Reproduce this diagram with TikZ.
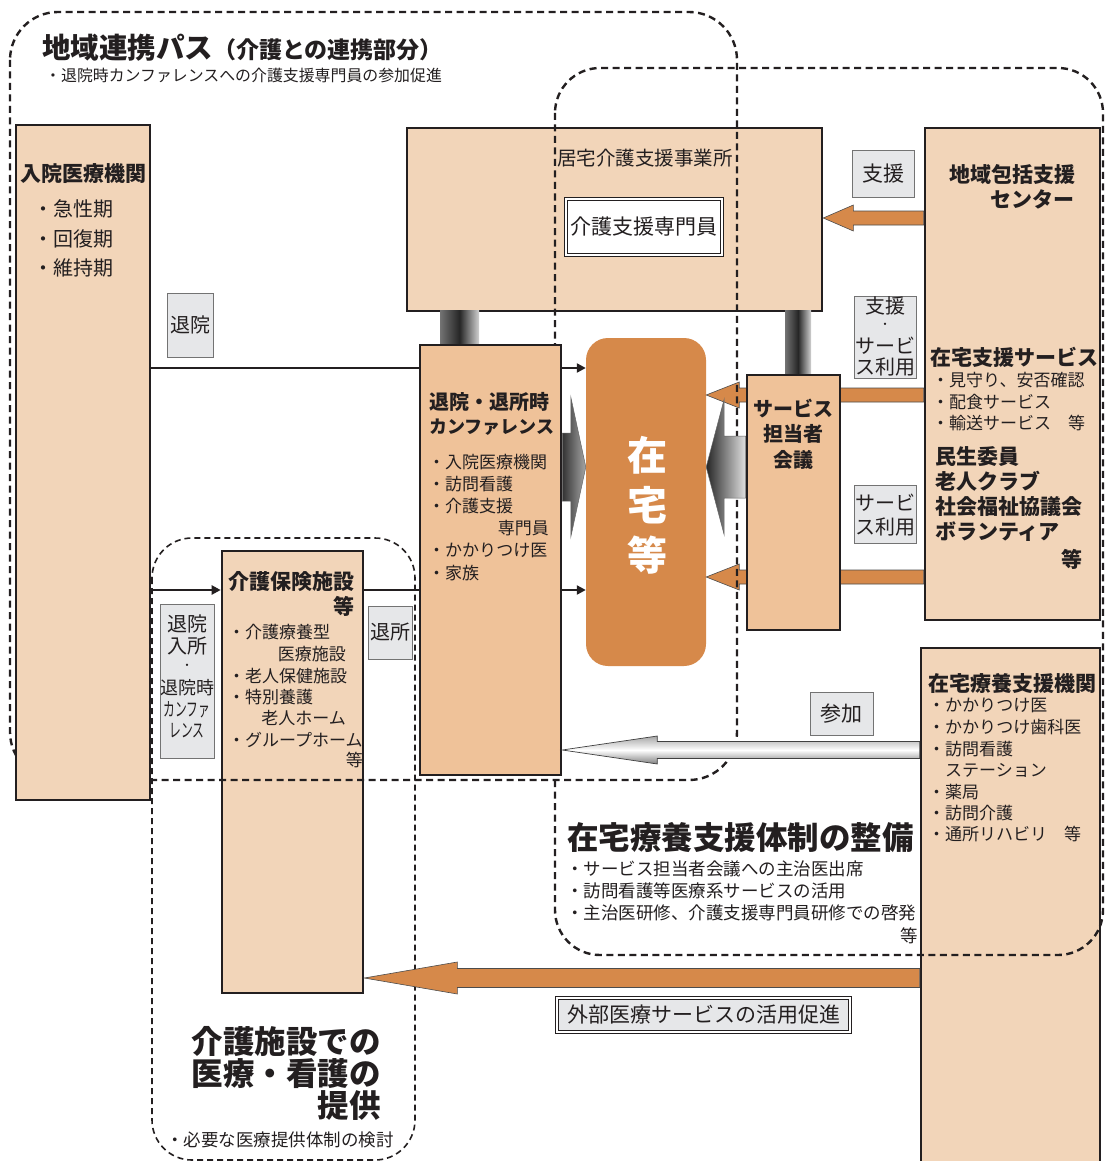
\documentclass[tikz,border=0pt]{standalone}
\usepackage{fontspec}
\usepackage{graphicx}
\setmainfont{Noto Sans CJK JP}
\usetikzlibrary{calc,arrows.meta}
\definecolor{peachL}{HTML}{F2D5B9}
\definecolor{peachM}{HTML}{EFC299}
\definecolor{orng}{HTML}{D6894A}
\definecolor{labg}{HTML}{E6E7E9}
\definecolor{tc}{HTML}{231F20}
\newcommand\fs[1]{\fontsize{#1}{#1}\selectfont}
% block arrow: style, tail, tip, body half, head half, head length (signed)
\newcommand\blkarrow[6]{%
  \path[#1] let \p1=#2, \p2=#3 in
    (\x1,{\y1+#4}) -- ({\x2+#6},{\y1+#4}) -- ({\x2+#6},{\y1+#5}) -- (\x2,\y1)
    -- ({\x2+#6},{\y1-#5}) -- ({\x2+#6},{\y1-#4}) -- (\x1,{\y1-#4}) -- cycle;}
\begin{document}
\begin{tikzpicture}[x=1pt,y=-1pt,
  bx/.style={draw=tc, line width=2.6pt, fill=peachL, inner sep=0pt},
  bxm/.style={bx, fill=peachM},
  lbl/.style={draw=black!55, line width=0.7pt, fill=labg, inner sep=0pt},
  t/.style={inner sep=0pt, text=tc},
  dshA/.style={draw=tc, line width=2.4pt, dash pattern=on 7pt off 4.5pt},
  dshB/.style={draw=tc, line width=1.6pt, dash pattern=on 6pt off 4pt},
  conn/.style={draw=tc, line width=2.2pt},
  arr/.style={conn, -{Triangle[length=9pt,width=9pt]}},
  oarr/.style={fill=orng, draw=black!70, line width=0.6pt},
  garr/.style={draw=black!60, line width=0.5pt, left color=black!80, right color=black!35},
  garrb/.style={draw=black!60, line width=0.5pt, left color=black!85, right color=black!12},
  parr/.style={draw=black!75, line width=0.7pt, top color=black!35, bottom color=black!50, middle color=white},
  pillar/.style={inner sep=0pt, left color=black!55, right color=black!18, middle color=black!85},
]
\useasboundingbox (0,0) rectangle (1105,1161);
\clip (0,0) rectangle (1105,1161);
\fill[white] (0,0) rectangle (1105,1161);

\coordinate (y218) at (0,218);
\coordinate (y368) at (0,368);
\coordinate (y395) at (0,395);
\coordinate (y467) at (0,467);
\coordinate (y577) at (0,577);
\coordinate (y590) at (0,590);
\coordinate (y750) at (0,750);
\coordinate (y978) at (0,978);

% lower boxes
\node[bx, minimum width=415pt, minimum height=183pt] (kyo) at (614.5,219.5) {};
\node[bx, minimum width=141pt, minimum height=442pt] (fac) at (292.5,772) {};
\node[bx, minimum width=179pt, minimum height=540pt] (ryoyo) at (1010.5,918) {};
\node[bx, minimum width=175pt, minimum height=492pt] (chiiki) at (1012.5,374) {};

% pillars
\node[pillar, minimum width=39pt, minimum height=36pt] (pilL) at (459.5,328) {};
\node[pillar, minimum width=26pt, minimum height=66pt] (pilR) at (798,343) {};

% home
\node[fill=orng, rounded corners=22pt, minimum width=120pt, minimum height=328pt, inner sep=0pt] (zai) at (646,502) {};

% orange arrows
\blkarrow{oarr}{(chiiki.west |- y395)}{(zai.east |- y395)}{7}{13}{33}
\blkarrow{oarr}{(chiiki.west |- y577)}{(zai.east |- y577)}{7}{13}{33}
\blkarrow{oarr}{(chiiki.west |- y218)}{(kyo.east |- y218)}{7}{13}{30}

% dashed regions
\draw[dshA, rounded corners=48pt] (10,12) rectangle (737,780);
\draw[dshA, rounded corners=45pt] (555,68) rectangle (1103,955);
\draw[dshB, rounded corners=40pt] (152,538) rectangle (415,1160);

% upper boxes
\node[bx, minimum width=134pt, minimum height=675pt] (hosp) at (83,462.5) {};
\node[bxm, minimum width=141pt, minimum height=430pt] (conf) at (490.5,560) {};
\node[bxm, minimum width=93pt, minimum height=255pt] (serv) at (793.5,502.5) {};

% big gray arrows
\blkarrow{garr}{(conf.east |- y467)}{(zai.west |- y467)}{34}{70}{-15}
\blkarrow{garrb}{(serv.west |- y467)}{(zai.east |- y467)}{31}{68}{18}

% connectors
\draw[conn] (hosp.east |- y368) -- (conf.west |- y368);
\draw[arr] (conf.east |- y368) -- (zai.west |- y368);
\draw[arr] (hosp.east |- y590) -- (fac.west |- y590);
\draw[conn] (fac.east |- y590) -- (conf.west |- y590);
\draw[arr] (conf.east |- y590) -- (zai.west |- y590);

% participation and external arrows
\blkarrow{parr}{(ryoyo.west |- y750)}{(conf.east |- y750)}{8.5}{14}{95}
\blkarrow{oarr}{(ryoyo.west |- y978)}{(fac.east |- y978)}{9.5}{16}{93}

% label boxes
\node[lbl, minimum width=46pt, minimum height=64pt, font=\fs{20}, text=tc] (lTaiin) at (190,325) {退院};
\node[lbl, minimum width=62pt, minimum height=47pt, font=\fs{21}, text=tc] (lShien) at (883,173.5) {支援};
\node[lbl, minimum width=62pt, minimum height=82pt] (lShien2) at (885,337) {};
\node[t, font=\fs{20}] (s2a) at (885,306) {支援};
\node[t, font=\fs{11}] (s2b) at (885,326) {・};
\node[t, font=\fs{20}] (s2c) at (885,346) {サービ};
\node[t, font=\fs{20}] (s2d) at (885,367) {ス利用};
\node[lbl, minimum width=62pt, minimum height=58pt] (lServ) at (885,514) {};
\node[t, font=\fs{20}] (s3a) at (885,503) {サービ};
\node[t, font=\fs{20}] (s3b) at (885,527) {ス利用};
\node[lbl, minimum width=63pt, minimum height=43pt, font=\fs{21}, text=tc] (lSanka) at (841.5,713.5) {参加};
\node[lbl, minimum width=54pt, minimum height=154pt] (lNyusho) at (187,681) {};
\node[t, font=\fs{20}] (n1) at (187,624) {退院};
\node[t, font=\fs{20}] (n2) at (187,646) {入所};
\node[t, font=\fs{11}] (n3) at (187,667) {・};
\node[t, font=\fs{18}] (n4) at (187,688) {退院時};
\node[t] (n5) at (187,710) {\scalebox{0.62}[1]{\fs{19}カンファ}};
\node[t] (n6) at (187,731) {\scalebox{0.62}[1]{\fs{19}レンス}};
\node[lbl, minimum width=44pt, minimum height=53pt, font=\fs{20}, text=tc] (lTaisho) at (390,632.5) {退所};
\node[draw=tc, double=white, double distance=1.3pt, line width=1.5pt, fill=labg, minimum width=293pt, minimum height=34pt, inner sep=0pt, font=\fs{21}, text=tc] (gaibu) at (703.5,1015) {外部医療サービスの活用促進};
\node[draw=tc, double=white, double distance=1.3pt, line width=1.4pt, fill=white, minimum width=156pt, minimum height=56pt, inner sep=0pt, font=\fs{21}, text=tc] (cm) at (644,227) {介護支援専門員};

% title texts
\node[t, anchor=west, font=\bfseries] (title) at (42,48) {\fs{28.5}地域連携パス\fs{23}（介護との連携部分）};
\node[t, anchor=west, font=\fs{15.9}] (subt) at (45,75) {・退院時カンファレンスへの介護支援専門員の参加促進};

% hospital
\node[t, font=\bfseries\fs{21}] (h0) at (83,174) {入院医療機関};
\node[t, font=\fs{20}, anchor=west] (h1) at (33,209) {・急性期};
\node[t, font=\fs{20}, anchor=west] (h2) at (33,239) {・回復期};
\node[t, font=\fs{20}, anchor=west] (h3) at (33,268) {・維持期};

% kyotaku
\node[t, font=\fs{19.5}] (k0) at (645,158) {居宅介護支援事業所};

% conference
\node[t, font=\bfseries\fs{20}, anchor=west] (c0) at (429,402) {退院・退所時};
\node[t, font=\bfseries\fs{18}, anchor=west] (c0b) at (429,427) {カンファレンス};
\node[t, font=\fs{17}, anchor=west] (c1) at (428,462) {・入院医療機関};
\node[t, font=\fs{17}, anchor=west] (c2) at (428,484) {・訪問看護};
\node[t, font=\fs{17}, anchor=west] (c3) at (428,506) {・介護支援};
\node[t, font=\fs{17}, anchor=east] (c4) at (549,528) {専門員};
\node[t, font=\fs{17}, anchor=west] (c5) at (428,550) {・かかりつけ医};
\node[t, font=\fs{17}, anchor=west] (c6) at (428,573) {・家族};

% home text
\node[t, text=white, font=\bfseries\fs{40}] (z1) at (647,455) {在};
\node[t, text=white, font=\bfseries\fs{40}] (z2) at (647,505) {宅};
\node[t, text=white, font=\bfseries\fs{40}] (z3) at (647,555) {等};

% service meeting
\node[t, font=\bfseries\fs{20}] (sv1) at (793,408) {サービス};
\node[t, font=\bfseries\fs{20}] (sv2) at (793,434) {担当者};
\node[t, font=\bfseries\fs{20}] (sv3) at (793,460) {会議};

% chiiki
\node[t, font=\bfseries\fs{21}] (g0) at (1012,174) {地域包括支援};
\node[t, font=\bfseries\fs{21}, anchor=east] (g0b) at (1075,199) {センター};
\node[t, font=\bfseries\fs{21}, anchor=west] (g1) at (930,357) {在宅支援サービス};
\node[t, font=\fs{17}, anchor=west] (g2) at (932,380) {・見守り、安否確認};
\node[t, font=\fs{17}, anchor=west] (g3) at (932,402) {・配食サービス};
\node[t, font=\fs{17}, anchor=west] (g4) at (932,423) {・輸送サービス　等};
\node[t, font=\bfseries\fs{21}, anchor=west] (g5) at (935,457) {民生委員};
\node[t, font=\bfseries\fs{21}, anchor=west] (g6) at (935,481) {老人クラブ};
\node[t, font=\bfseries\fs{21}, anchor=west] (g7) at (935,507) {社会福祉協議会};
\node[t, font=\bfseries\fs{21}, anchor=west] (g8) at (935,532) {ボランティア};
\node[t, font=\bfseries\fs{21}, anchor=east] (g9) at (1083,559) {等};

% ryoyo
\node[t, font=\bfseries\fs{21}, anchor=west] (r0) at (928,683) {在宅療養支援機関};
\node[t, font=\fs{17}, anchor=west] (r1) at (928,705) {・かかりつけ医};
\node[t, font=\fs{17}, anchor=west] (r2) at (928,727) {・かかりつけ歯科医};
\node[t, font=\fs{17}, anchor=west] (r3) at (928,749) {・訪問看護};
\node[t, font=\fs{17}, anchor=west] (r4) at (945,770) {ステーション};
\node[t, font=\fs{17}, anchor=west] (r5) at (928,792) {・薬局};
\node[t, font=\fs{17}, anchor=west] (r6) at (928,813) {・訪問介護};
\node[t, font=\fs{17}, anchor=west] (r7) at (928,834) {・通所リハビリ　等};

% facility
\node[t, font=\bfseries\fs{21}, anchor=west] (f0) at (228,582) {介護保険施設};
\node[t, font=\bfseries\fs{21}, anchor=east] (f0b) at (355,606) {等};
\node[t, font=\fs{17}, anchor=west] (f1) at (228,632) {・介護療養型};
\node[t, font=\fs{17}, anchor=east] (f2) at (346,654) {医療施設};
\node[t, font=\fs{17}, anchor=west] (f3) at (228,676) {・老人保健施設};
\node[t, font=\fs{17}, anchor=west] (f4) at (228,697) {・特別養護};
\node[t, font=\fs{17}, anchor=east] (f5) at (346,718) {老人ホーム};
\node[t, font=\fs{17}, anchor=west] (f6) at (228,740) {・グループホーム};
\node[t, font=\fs{17}, anchor=east] (f7) at (363,760) {等};

% home care system
\node[t, font=\bfseries\fs{31.5}, anchor=west] (p0) at (567,838) {在宅療養支援体制の整備};
\node[t, font=\fs{17.5}, anchor=west] (p1) at (566,869) {・サービス担当者会議への主治医出席};
\node[t, font=\fs{17.5}, anchor=west] (p2) at (566,891) {・訪問看護等医療系サービスの活用};
\node[t, font=\fs{17.5}, anchor=west] (p3) at (566,913) {・主治医研修、介護支援専門員研修での啓発};
\node[t, font=\fs{17.5}, anchor=east] (p4) at (918,936) {等};

% facility care
\node[t, font=\bfseries\fs{31.5}, anchor=east] (q0) at (381,1041) {介護施設での};
\node[t, font=\bfseries\fs{31.5}, anchor=east] (q1) at (381,1074) {医療・看護の};
\node[t, font=\bfseries\fs{31.5}, anchor=east] (q2) at (381,1106) {提供};
\node[t, font=\fs{17.5}, anchor=west] (q3) at (166,1140) {・必要な医療提供体制の検討};
\end{tikzpicture}
\end{document}
